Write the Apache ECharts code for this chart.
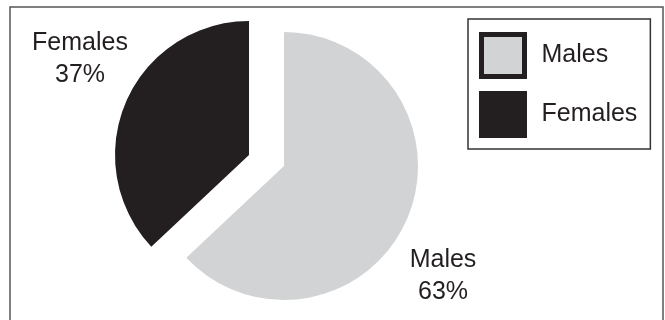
<!DOCTYPE html>
<html>
<head>
<meta charset="utf-8">
<script src="https://cdn.jsdelivr.net/npm/echarts@6/dist/echarts.min.js"></script>
<style>
  html, body { margin: 0; padding: 0; background: #fff; }
  #chart { width: 665px; height: 320px; }
</style>
</head>
<body>
<div id="chart"></div>
<script>
// data
const categories = ["Males", "Females"];
const shares = [63, 37];
const colors = ["#d1d3d4", "#231f20"];

// the pulled-out slice gets its own centre
const centers = [[284, 166], [249, 155]];
const labelPos = [[443, 276], [80, 59]];

let myChart = echarts.init(document.getElementById("chart"));
let font = "'Liberation Sans', Arial, sans-serif";

// one pie per slice, the other slice is left transparent
let series = categories.map((cat, k) => ({
  type: "pie",
  center: centers[k],
  radius: 134,
  startAngle: 90,
  clockwise: true,
  avoidLabelOverlap: false,
  emphasis: { disabled: true },
  label: {
    show: true,
    position: "outside",
    formatter: "{b}\n{d}%",
    fontFamily: font,
    fontSize: 25,
    lineHeight: 32,
    color: "#231f20",
    align: "center"
  },
  labelLine: { show: false },
  labelLayout: function (params) {
    if (params.dataIndex !== k) return {};
    let p = labelPos[k];
    return { x: p[0], y: p[1], align: "center", verticalAlign: "middle" };
  },
  data: categories.map((name, i) => ({
    name: name,
    value: shares[i],
    label: { show: i === k },
    itemStyle: { color: i === k ? colors[i] : "rgba(0,0,0,0)" }
  }))
}));

let option = {
  animation: false,
  graphic: [
    {
      type: "rect",
      shape: { x: 10, y: 7, width: 653, height: 340 },
      style: { fill: "none", stroke: "#555", lineWidth: 1.5 },
      silent: true
    }
  ],
  legend: {
    orient: "vertical",
    left: 468,
    top: 19,
    padding: [13, 13, 11, 11],
    borderColor: "#333",
    borderWidth: 1.5,
    itemWidth: 43,
    itemHeight: 42,
    itemGap: 12,
    selectedMode: false,
    textStyle: {
      fontFamily: font,
      fontSize: 25,
      color: "#231f20",
      padding: [0, 0, 0, 12]
    },
    data: categories.map((name, i) => ({
      name: name,
      icon: "rect",
      itemStyle: { color: colors[i], borderColor: "#231f20", borderWidth: 5, borderJoin: "miter" }
    }))
  },
  series: series
};

myChart.setOption(option, true);
window.addEventListener("resize", () => {
  myChart.resize();
});
</script>
</body>
</html>
